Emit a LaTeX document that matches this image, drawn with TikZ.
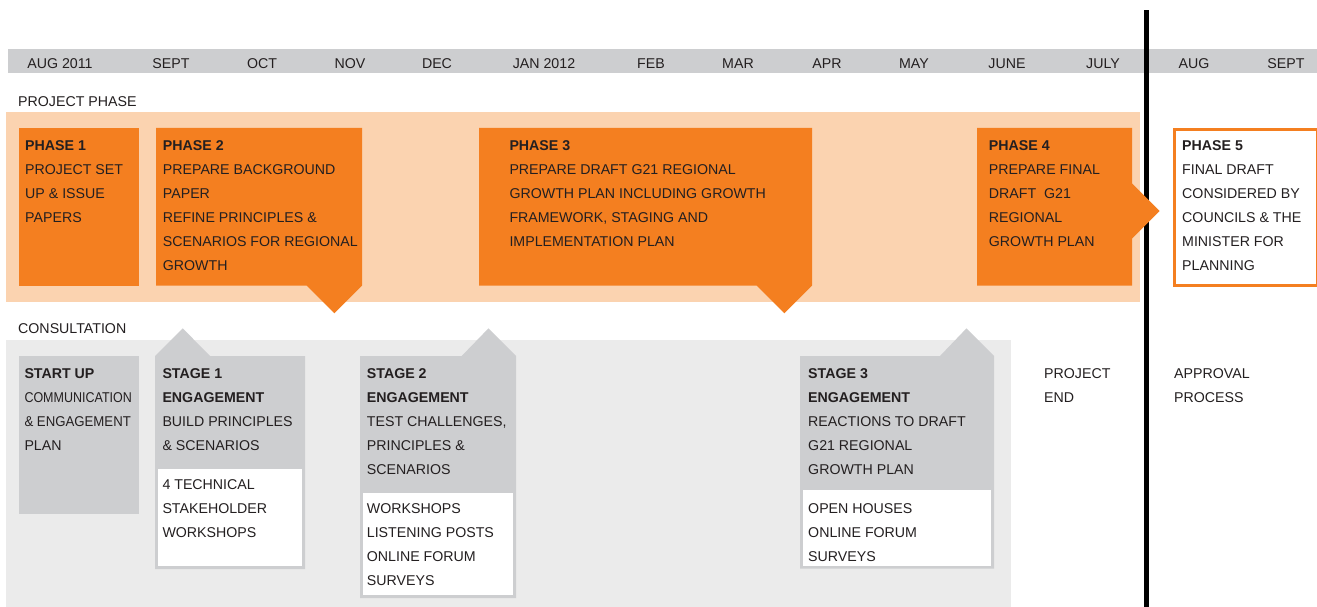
\documentclass[tikz,border=0pt]{standalone}
\usepackage{graphicx}
\usepackage{fontspec}
\setmainfont{Liberation Sans}
\definecolor{orng}{HTML}{F47F20}
\definecolor{peach}{HTML}{FBD3B0}
\definecolor{bargray}{HTML}{CDCED0}
\definecolor{lightband}{HTML}{EBEBEB}
\definecolor{boxgray}{HTML}{CDCED0}
\definecolor{ink}{HTML}{231F20}
\begin{document}
\begin{tikzpicture}[x=1pt,y=-1pt,
  txt/.style={anchor=north west,inner sep=0pt,align=left,text=ink,font=\fontsize{14.2}{24}\selectfont},
  lbl/.style={anchor=base west,inner sep=0pt,text=ink,font=\fontsize{14.2}{24}\selectfont},
  mon/.style={anchor=base,inner sep=0pt,text=ink,font=\fontsize{14.2}{24}\selectfont},
  phasebox/.style={fill=orng},
  stagebox/.style={fill=boxgray},
  innerbox/.style={fill=white}]
\useasboundingbox (0,0) rectangle (1317,607);
\fill[white] (0,0) rectangle (1317,607);
% month bar
\fill[bargray] (8,49.5) rectangle (1317,73.5);
\node[mon] (m1) at (60,68.5) {AUG 2011};
\node[mon] (m2) at (171,68.5) {SEPT};
\node[mon] (m3) at (262,68.5) {OCT};
\node[mon] (m4) at (350,68.5) {NOV};
\node[mon] (m5) at (437,68.5) {DEC};
\node[mon] (m6) at (544,68.5) {JAN 2012};
\node[mon] (m7) at (651,68.5) {FEB};
\node[mon] (m8) at (738,68.5) {MAR};
\node[mon] (m9) at (827,68.5) {APR};
\node[mon] (m10) at (914,68.5) {MAY};
\node[mon] (m11) at (1007,68.5) {JUNE};
\node[mon] (m12) at (1103,68.5) {JULY};
\node[mon] (m13) at (1194,68.5) {AUG};
\node[mon] (m14) at (1286,68.5) {SEPT};
% project phase
\node[lbl] (pp) at (18,106.5) {PROJECT PHASE};
\fill[peach] (6,112) rectangle (1140,301.5);
\fill[phasebox] (19,128) rectangle (139,285.7);
\fill[phasebox] (156,128) -- (362,128) -- (362,285.7) -- (334.3,313.3) -- (306.7,285.7) -- (156,285.7) -- cycle;
\fill[phasebox] (479,128) -- (812,128) -- (812,285.7) -- (784.3,313.3) -- (756.7,285.7) -- (479,285.7) -- cycle;
% divider
\fill[black] (1144,10) rectangle (1149,607);
\fill[phasebox] (977,128) -- (1132,128) -- (1132,183.3) -- (1159.5,211) -- (1132,238.7) -- (1132,285.7) -- (977,285.7) -- cycle;
\draw[orng,line width=2.5pt,fill=white] (1174.3,129.3) rectangle (1317.5,285.4);
\node[txt] (p1) at (25,140.3) {\textbf{PHASE 1}\\PROJECT SET\\UP \& ISSUE\\PAPERS};
\node[txt] (p2) at (162.7,140.3) {\textbf{PHASE 2}\\PREPARE BACKGROUND\\PAPER\\REFINE PRINCIPLES \&\\SCENARIOS FOR REGIONAL\\GROWTH};
\node[txt] (p3) at (509.3,140.3) {\textbf{PHASE 3}\\PREPARE DRAFT G21 REGIONAL\\GROWTH PLAN INCLUDING GROWTH\\FRAMEWORK, STAGING AND\\IMPLEMENTATION PLAN};
\node[txt] (p4) at (988.7,140.3) {\textbf{PHASE 4}\\PREPARE FINAL\\DRAFT\ \ G21\\REGIONAL\\GROWTH PLAN};
\node[txt] (p5) at (1182,140.3) {\textbf{PHASE 5}\\FINAL DRAFT\\CONSIDERED BY\\COUNCILS \& THE\\MINISTER FOR\\PLANNING};
% consultation
\node[lbl] (cons) at (18,333) {CONSULTATION};
\fill[lightband] (6,340) rectangle (1011,607);
\fill[stagebox] (19,356) rectangle (139,513.7);
\fill[stagebox] (155,356) -- (182.7,328.3) -- (210,356) -- (305,356) -- (305,569) -- (155,569) -- cycle;
\fill[innerbox] (158,469) rectangle (302,566);
\fill[stagebox] (360,356) -- (461.7,356) -- (488.5,328.3) -- (516,356) -- (516,598) -- (360,598) -- cycle;
\fill[innerbox] (363,493) rectangle (513.3,595.3);
\fill[stagebox] (800,356) -- (940,356) -- (966.5,328.3) -- (994,356) -- (994,568.5) -- (800,568.5) -- cycle;
\fill[innerbox] (803,490) rectangle (991.3,566);
\node[txt] (s0) at (24.3,368.8) {\textbf{START UP}\\\scalebox{0.88}[1]{COMMUNICATION}\\\scalebox{0.93}[1]{\& ENGAGEMENT}\\PLAN};
\node[txt] (s1) at (162.3,368.8) {\textbf{STAGE 1}\\\textbf{ENGAGEMENT}\\BUILD PRINCIPLES\\\& SCENARIOS};
\node[txt] (s1b) at (162.3,479.3) {4 TECHNICAL\\STAKEHOLDER\\WORKSHOPS};
\node[txt] (s2) at (366.7,368.8) {\textbf{STAGE 2}\\\textbf{ENGAGEMENT}\\TEST CHALLENGES,\\PRINCIPLES \&\\SCENARIOS};
\node[txt] (s2b) at (366.7,503.3) {WORKSHOPS\\LISTENING POSTS\\ONLINE FORUM\\SURVEYS};
\node[txt] (s3) at (808,368.8) {\textbf{STAGE 3}\\\textbf{ENGAGEMENT}\\REACTIONS TO DRAFT\\G21 REGIONAL\\GROWTH PLAN};
\node[txt] (s3b) at (808,503.3) {OPEN HOUSES\\ONLINE FORUM\\SURVEYS};
\node[txt] (pe) at (1044,368.8) {PROJECT\\END};
\node[txt] (ap) at (1174,368.8) {APPROVAL\\PROCESS};
\end{tikzpicture}
\end{document}
